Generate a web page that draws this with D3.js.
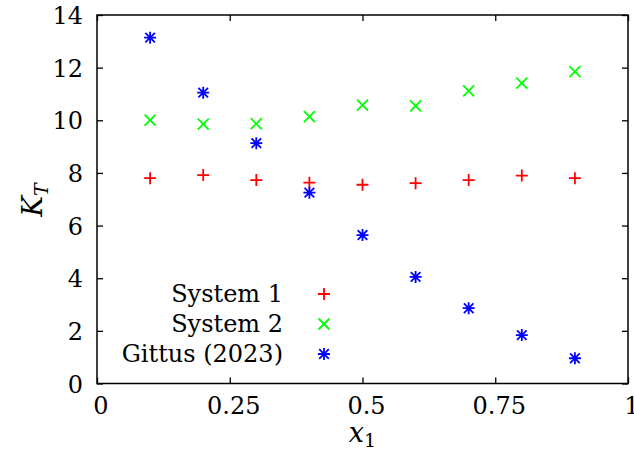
<!DOCTYPE html>
<html>
<head>
<meta charset="utf-8">
<script src="https://cdn.jsdelivr.net/npm/d3@7"></script>
<style>
  body { margin: 0; background: #fff; }
</style>
</head>
<body>
<div id="chart"></div>
<script>
// values
var xs = [0.1, 0.2, 0.3, 0.4, 0.5, 0.6, 0.7, 0.8, 0.9];
var system1 = [7.80, 7.92, 7.73, 7.63, 7.55, 7.61, 7.73, 7.90, 7.80];
var system2 = [10.01, 9.85, 9.87, 10.14, 10.58, 10.55, 11.12, 11.41, 11.85];
var gittus = [13.14, 11.05, 9.13, 7.25, 5.64, 4.05, 2.86, 1.84, 0.96];
var xTicks = [0, 0.25, 0.5, 0.75, 1];
var xTickLabels = ["0", "0.25", "0.5", "0.75", "1"];
var yTicks = [0, 2, 4, 6, 8, 10, 12, 14];
var seriesNames = ["System 1", "System 2", "Gittus (2023)"];

var width = 634, height = 455;
var margin = {top: 15, right: 6, bottom: 71.5, left: 97};
var w = width - margin.left - margin.right,
    h = height - margin.top - margin.bottom;

var serif = "'DejaVu Serif'";

var svg = d3.select("#chart").append("svg")
    .attr("width", width)
    .attr("height", height)
    .attr("font-family", serif)
    .style("font-family", serif);

var g = svg.append("g")
    .attr("transform", "translate(" + margin.left + "," + margin.top + ")");

var x = d3.scaleLinear().domain([0, 1]).range([0, w]);
var y = d3.scaleLinear().domain([0, 14]).range([h, 0]);

var fontSize = 24;

// ticks on all four sides, pointing in
g.append("g").call(d3.axisBottom(x).tickValues(xTicks).tickSizeInner(-6).tickSizeOuter(0).tickFormat(""))
  .attr("transform", "translate(0," + h + ")");
g.append("g").call(d3.axisTop(x).tickValues(xTicks).tickSizeInner(-6).tickSizeOuter(0).tickFormat(""));
g.append("g").call(d3.axisLeft(y).tickValues(yTicks).tickSizeInner(-6).tickSizeOuter(0).tickFormat(""));
g.append("g").call(d3.axisRight(y).tickValues(yTicks).tickSizeInner(-6).tickSizeOuter(0).tickFormat(""))
  .attr("transform", "translate(" + w + ",0)");
g.selectAll(".domain").remove();
g.selectAll(".tick line").attr("stroke", "#000").attr("stroke-width", 1.3);

g.append("rect")
  .attr("width", w).attr("height", h)
  .attr("fill", "none").attr("stroke", "#000").attr("stroke-width", 1.5);

function label(sel, size) {
  return sel.attr("font-family", serif).style("font-family", serif)
    .style("font-size", (size || fontSize) + "px").attr("fill", "#000");
}

// tick labels
label(g.selectAll(".xlab").data(xTicks).enter().append("text"))
  .attr("x", function (d) { return x(d) + 4; })
  .attr("y", h + 30)
  .attr("text-anchor", "middle")
  .text(function (d, i) { return xTickLabels[i]; });

label(g.selectAll(".ylab").data(yTicks).enter().append("text"))
  .attr("x", -14)
  .attr("y", function (d) { return y(d) + 9; })
  .attr("text-anchor", "end")
  .text(function (d) { return d; });

// axis titles
var xt = label(svg.append("text"), 27)
  .attr("x", margin.left + x(0.5))
  .attr("y", 442)
  .attr("text-anchor", "middle");
xt.append("tspan").style("font-style", "italic").text("x");
xt.append("tspan").attr("dy", 5).style("font-size", "19px").text("1");

var yt = label(svg.append("text"), 28)
  .attr("transform", "translate(42,200) rotate(-90)")
  .attr("text-anchor", "middle");
yt.append("tspan").style("font-style", "italic").text("K");
yt.append("tspan").attr("dy", 6).style("font-style", "italic").style("font-size", "19px").text("T");

// point symbols
function plus(s) { return "M" + (-s) + ",0H" + s + "M0," + (-s) + "V" + s; }
function cross(s) { return "M" + (-s) + "," + (-s) + "L" + s + "," + s + "M" + (-s) + "," + s + "L" + s + "," + (-s); }
function star(s) { return plus(s) + cross(s * 0.8); }

var series = [
  {name: seriesNames[0], values: system1, color: "#ff0000", path: plus(6)},
  {name: seriesNames[1], values: system2, color: "#00ff00", path: cross(5.5)},
  {name: seriesNames[2], values: gittus, color: "#0000ff", path: star(6)}
];

series.forEach(function (s) {
  g.selectAll(null).data(s.values).enter().append("path")
    .attr("transform", function (d, i) { return "translate(" + x(xs[i]) + "," + y(d) + ")"; })
    .attr("d", s.path)
    .attr("fill", "none")
    .attr("stroke", s.color)
    .attr("stroke-width", 1.8);
});

// legend
var legend = svg.append("g");
series.forEach(function (s, i) {
  var by = 302 + i * 30;
  label(legend.append("text"))
    .attr("x", 283)
    .attr("y", by)
    .attr("text-anchor", "end")
    .text(s.name);
  legend.append("path")
    .attr("transform", "translate(324," + (by - 8) + ")")
    .attr("d", s.path)
    .attr("fill", "none")
    .attr("stroke", s.color)
    .attr("stroke-width", 1.8);
});
</script>
</body>
</html>
